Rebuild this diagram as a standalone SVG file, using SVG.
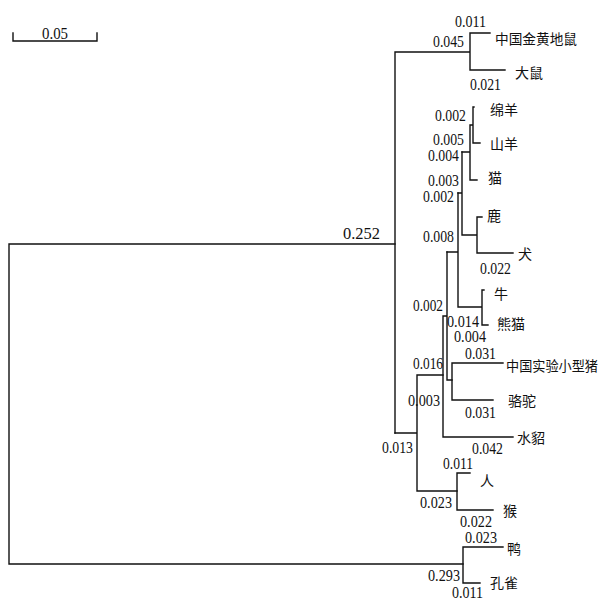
<svg xmlns="http://www.w3.org/2000/svg" width="603" height="601" viewBox="0 0 603 601">
<style>
.br{fill:none;stroke:#111;stroke-width:1.4;stroke-linecap:square}
.num{font-family:"Liberation Serif",serif;font-size:16px;fill:#111}
.lbl{font-family:"Noto Sans CJK SC","Noto Sans CJK JP",sans-serif;font-size:14px;fill:#111}
</style>
<rect width="603" height="601" fill="#fff"/>
<g id="scale">
<path class="br" d="M13 33V41H97V33"/>
<text class="num" x="42" y="39" textLength="26" lengthAdjust="spacingAndGlyphs">0.05</text>
</g>
<g id="connectors">
<path class="br" d="M9 244H395M9 244V564M9 564H463"/>
<path class="br" d="M395 52V433M395 52H470M470 33V70M470 33H490M470 70H505"/>
<path class="br" d="M395 433H417M417 375V491M417 375H443M417 491H457"/>
<path class="br" d="M443 316V437M443 437H513M443 316H447M447 252V380M447 380H452"/>
<path class="br" d="M452 363V400M452 363H503M452 400H493"/>
<path class="br" d="M447 252H458M458 193V307M458 307H482M482 290V325M482 290H484M482 325H488"/>
<path class="br" d="M458 193H462M462 152V235M462 235H477M477 217V253M477 217H482M477 253H513"/>
<path class="br" d="M462 152H470M470 125V180M470 180H477M470 125H473M473 107V143M473 107H474M473 143H480"/>
<path class="br" d="M457 473V510M457 473H470M457 510H493"/>
<path class="br" d="M463 547V583M463 547H503M463 583H480"/>
</g>
<g id="branch-lengths">
<text class="num" x="343" y="238.5" textLength="37" lengthAdjust="spacingAndGlyphs">0.252</text>
<text class="num" x="455" y="26.5" textLength="31" lengthAdjust="spacingAndGlyphs">0.011</text>
<text class="num" x="433" y="46.5" textLength="31" lengthAdjust="spacingAndGlyphs">0.045</text>
<text class="num" x="470" y="89.5" textLength="31" lengthAdjust="spacingAndGlyphs">0.021</text>
<text class="num" x="435" y="120.5" textLength="31" lengthAdjust="spacingAndGlyphs">0.002</text>
<text class="num" x="433" y="144.5" textLength="31" lengthAdjust="spacingAndGlyphs">0.005</text>
<text class="num" x="428" y="160.5" textLength="31" lengthAdjust="spacingAndGlyphs">0.004</text>
<text class="num" x="428" y="185.5" textLength="31" lengthAdjust="spacingAndGlyphs">0.003</text>
<text class="num" x="423" y="201.5" textLength="31" lengthAdjust="spacingAndGlyphs">0.002</text>
<text class="num" x="423" y="241.5" textLength="31" lengthAdjust="spacingAndGlyphs">0.008</text>
<text class="num" x="480" y="273.5" textLength="31" lengthAdjust="spacingAndGlyphs">0.022</text>
<text class="num" x="413" y="310.5" textLength="30" lengthAdjust="spacingAndGlyphs">0.002</text>
<text class="num" x="447" y="326.5" textLength="32" lengthAdjust="spacingAndGlyphs">0.014</text>
<text class="num" x="454" y="341.5" textLength="32" lengthAdjust="spacingAndGlyphs">0.004</text>
<text class="num" x="465" y="358.5" textLength="31" lengthAdjust="spacingAndGlyphs">0.031</text>
<text class="num" x="413" y="368.5" textLength="30" lengthAdjust="spacingAndGlyphs">0.016</text>
<text class="num" x="408" y="405.5" textLength="32" lengthAdjust="spacingAndGlyphs">0.003</text>
<text class="num" x="465" y="417.5" textLength="31" lengthAdjust="spacingAndGlyphs">0.031</text>
<text class="num" x="382" y="452.5" textLength="31" lengthAdjust="spacingAndGlyphs">0.013</text>
<text class="num" x="472" y="453.5" textLength="31" lengthAdjust="spacingAndGlyphs">0.042</text>
<text class="num" x="443" y="468.5" textLength="30" lengthAdjust="spacingAndGlyphs">0.011</text>
<text class="num" x="420" y="507.5" textLength="32" lengthAdjust="spacingAndGlyphs">0.023</text>
<text class="num" x="460" y="526.5" textLength="32" lengthAdjust="spacingAndGlyphs">0.022</text>
<text class="num" x="465" y="542.5" textLength="32" lengthAdjust="spacingAndGlyphs">0.023</text>
<text class="num" x="428" y="580.5" textLength="32" lengthAdjust="spacingAndGlyphs">0.293</text>
<text class="num" x="452" y="597.5" textLength="31" lengthAdjust="spacingAndGlyphs">0.011</text>
</g>
<g id="n-hamster"><text class="lbl" x="495" y="43.5" textLength="82" lengthAdjust="spacingAndGlyphs">中国金黄地鼠</text></g>
<g id="n-rat"><text class="lbl" x="515" y="77.5">大鼠</text></g>
<g id="n-sheep"><text class="lbl" x="490" y="114.5">绵羊</text></g>
<g id="n-goat"><text class="lbl" x="490" y="148.5">山羊</text></g>
<g id="n-cat"><text class="lbl" x="488" y="182.5">猫</text></g>
<g id="n-deer"><text class="lbl" x="487" y="220.5">鹿</text></g>
<g id="n-dog"><text class="lbl" x="518" y="258.5">犬</text></g>
<g id="n-cattle"><text class="lbl" x="494" y="298.5">牛</text></g>
<g id="n-panda"><text class="lbl" x="497" y="328.5">熊猫</text></g>
<g id="n-pig"><text class="lbl" x="506" y="370.5" textLength="92" lengthAdjust="spacingAndGlyphs">中国实验小型猪</text></g>
<g id="n-camel"><text class="lbl" x="508" y="405.5">骆驼</text></g>
<g id="n-mink"><text class="lbl" x="517" y="442.5">水貂</text></g>
<g id="n-human"><text class="lbl" x="480" y="485.5">人</text></g>
<g id="n-monkey"><text class="lbl" x="503" y="515.5">猴</text></g>
<g id="n-duck"><text class="lbl" x="507" y="553.5">鸭</text></g>
<g id="n-peacock"><text class="lbl" x="490" y="587.5">孔雀</text></g>
</svg>
